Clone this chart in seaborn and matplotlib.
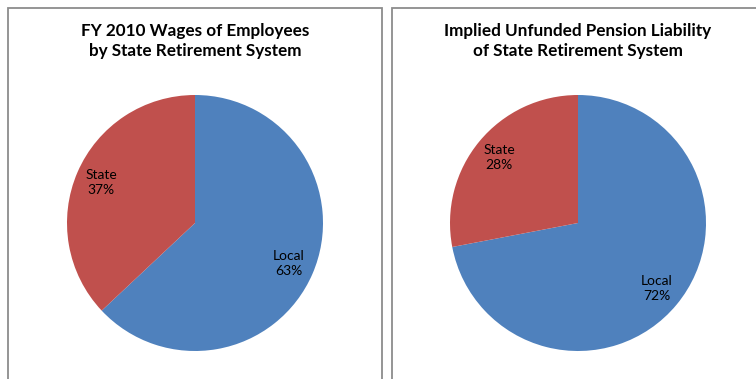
import matplotlib
matplotlib.use("Agg")
import matplotlib.pyplot as plt
import seaborn as sns
from matplotlib.patches import Rectangle

sns.set_theme(style="white")
plt.rcParams['font.family'] = ['Lato', 'DejaVu Sans']

categories = ["Local", "State"]
wages = [63, 37]
liability = [72, 28]
titles = ["FY 2010 Wages of Employees\nby State Retirement System",
          "Implied Unfunded Pension Liability\nof State Retirement System"]
colors = ["#4F81BD", "#C0504D"]

W, H = 756, 379
fig = plt.figure(figsize=(W / 100, H / 100), dpi=100)
fig.patch.set_facecolor("white")

# panel borders
for x0, x1 in [(8, 382), (392, 770)]:
    fig.patches.append(Rectangle((x0 / W, -0.1), (x1 - x0) / W, (H - 8) / H + 0.1,
                                 transform=fig.transFigure, fill=False,
                                 edgecolor="#8c8c8c", linewidth=1.3, zorder=0))

centers = [195, 578]
cy, r = 223, 128
for vals, title, cx in zip([wages, liability], titles, centers):
    ax = fig.add_axes([(cx - r) / W, (H - cy - r) / H, 2 * r / W, 2 * r / H])
    labels_iter = iter(categories)

    def fmt(p, it=labels_iter):
        return f"{next(it)}\n{p:.0f}%"

    wedges, texts, autotexts = ax.pie(vals, colors=colors, startangle=90,
                                      counterclock=False, autopct=fmt,
                                      pctdistance=0.8, radius=1,
                                      wedgeprops=dict(linewidth=0),
                                      textprops=dict(fontsize=10, color="black"))
    for t in autotexts:
        t.set_linespacing(1.3)
    ax.set_xlim(-1, 1)
    ax.set_ylim(-1, 1)
    ax.set_aspect("equal")
    ax.axis("off")
    fig.text(cx / W, 1 - 41 / H, title, ha="center", va="center",
             fontsize=12.3, fontweight="bold", linespacing=1.25, color="black")

fig.savefig("out.png", dpi=100)
